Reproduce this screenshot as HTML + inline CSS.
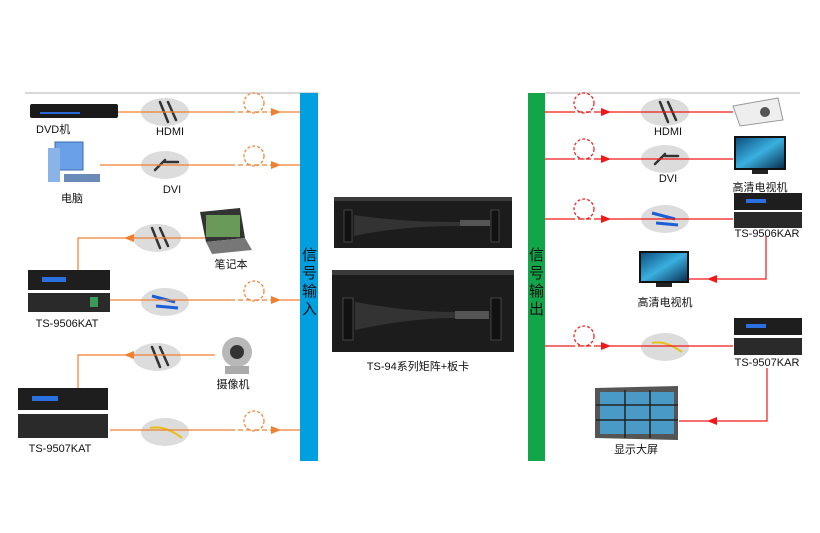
<!DOCTYPE html>
<html><head><meta charset="utf-8"><style>
body{margin:0;background:#fff}
svg text{font-family:"Liberation Sans","Noto Sans CJK SC",sans-serif;font-size:11px;fill:#111}
</style></head><body>
<svg width="820" height="528" viewBox="0 0 820 528" xmlns="http://www.w3.org/2000/svg">
<defs>
<marker id="ao" markerWidth="10" markerHeight="8" refX="9" refY="4" orient="auto" markerUnits="userSpaceOnUse"><path d="M0,0 L10,4 L0,8 Z" fill="#f08030"/></marker>
<marker id="ar" markerWidth="10" markerHeight="8" refX="9" refY="4" orient="auto" markerUnits="userSpaceOnUse"><path d="M0,0 L10,4 L0,8 Z" fill="#f01818"/></marker>
<linearGradient id="scr" x1="0" y1="0" x2="1" y2="1"><stop offset="0" stop-color="#0a4a7a"/><stop offset="0.5" stop-color="#3ab0e0"/><stop offset="1" stop-color="#052a4a"/></linearGradient>
</defs>
<line x1="25" y1="93" x2="318" y2="93" stroke="#ccc" stroke-width="1.5"/>
<line x1="545" y1="93" x2="800" y2="93" stroke="#ccc" stroke-width="1.5"/>
<rect x="300" y="93" width="18" height="368" fill="#00a0e0"/>
<rect x="528" y="93" width="17" height="368" fill="#12a54a"/>
<g fill="#1a1a2a" style="font-family:'Liberation Sans','Noto Sans CJK SC',sans-serif;font-size:15px">
<text x="302" y="260" fill="#1a1a2a" style="font-size:15px">信</text><text x="302" y="278" fill="#1a1a2a" style="font-size:15px">号</text><text x="302" y="296" fill="#1a1a2a" style="font-size:15px">输</text><text x="302" y="314" fill="#1a1a2a" style="font-size:15px">入</text>
<text x="529" y="260" fill="#1a1a2a" style="font-size:15px">信</text><text x="529" y="278" fill="#1a1a2a" style="font-size:15px">号</text><text x="529" y="296" fill="#1a1a2a" style="font-size:15px">输</text><text x="529" y="314" fill="#1a1a2a" style="font-size:15px">出</text></g>

<g fill="#dcdcdc">
<ellipse cx="165" cy="112" rx="24" ry="14"/><ellipse cx="165" cy="165" rx="24" ry="14"/>
<ellipse cx="157" cy="238" rx="24" ry="14"/><ellipse cx="165" cy="302" rx="24" ry="14"/>
<ellipse cx="157" cy="357" rx="24" ry="14"/><ellipse cx="165" cy="432" rx="24" ry="14"/>
<ellipse cx="665" cy="112" rx="24" ry="14"/><ellipse cx="665" cy="159" rx="24" ry="14"/>
<ellipse cx="665" cy="219" rx="24" ry="14"/><ellipse cx="665" cy="347" rx="24" ry="14"/>
</g>
<g stroke="#333" stroke-width="2.5" stroke-linecap="round">
<line x1="160" y1="102" x2="168" y2="122"/><line x1="168" y1="102" x2="176" y2="120"/>
<line x1="155" y1="170" x2="165" y2="160"/><line x1="165" y1="162" x2="178" y2="162"/>
<line x1="152" y1="228" x2="160" y2="248"/><line x1="160" y1="228" x2="168" y2="246"/>
<line x1="152" y1="347" x2="160" y2="367"/><line x1="160" y1="347" x2="168" y2="365"/>
<line x1="660" y1="102" x2="668" y2="122"/><line x1="668" y1="102" x2="676" y2="120"/>
<line x1="655" y1="164" x2="665" y2="154"/><line x1="665" y1="156" x2="678" y2="156"/>
</g>
<g stroke="#1b5fd8" stroke-width="3"><line x1="152" y1="296" x2="175" y2="302"/><line x1="156" y1="306" x2="178" y2="308"/>
<line x1="652" y1="213" x2="675" y2="219"/><line x1="656" y1="223" x2="678" y2="225"/></g>
<g stroke="#e8c020" stroke-width="2"><path d="M150 428 Q165 425 182 438" fill="none"/><path d="M652 343 Q665 340 682 352" fill="none"/></g>

<g stroke="#f08030" stroke-width="1.2" fill="none">
<line x1="118" y1="112" x2="230" y2="112"/><line x1="230" y1="112" x2="270" y2="112" stroke-dasharray="5,3"/><line x1="270" y1="112" x2="280" y2="112" marker-end="url(#ao)"/><line x1="280" y1="112" x2="300" y2="112"/>
<line x1="100" y1="165" x2="230" y2="165"/><line x1="230" y1="165" x2="270" y2="165" stroke-dasharray="5,3"/><line x1="270" y1="165" x2="280" y2="165" marker-end="url(#ao)"/><line x1="280" y1="165" x2="300" y2="165"/>
<line x1="110" y1="300" x2="230" y2="300"/><line x1="230" y1="300" x2="270" y2="300" stroke-dasharray="5,3"/><line x1="270" y1="300" x2="280" y2="300" marker-end="url(#ao)"/><line x1="280" y1="300" x2="300" y2="300"/>
<line x1="110" y1="430" x2="230" y2="430"/><line x1="230" y1="430" x2="270" y2="430" stroke-dasharray="5,3"/><line x1="270" y1="430" x2="280" y2="430" marker-end="url(#ao)"/><line x1="280" y1="430" x2="300" y2="430"/>
<line x1="205" y1="238" x2="125" y2="238" marker-end="url(#ao)"/><polyline points="125,238 78,238 78,270"/>
<line x1="215" y1="355" x2="125" y2="355" marker-end="url(#ao)"/><polyline points="125,355 78,355 78,388"/>
<circle cx="254" cy="103" r="10" stroke-dasharray="3,2"/><circle cx="254" cy="156" r="10" stroke-dasharray="3,2"/>
<circle cx="254" cy="291" r="10" stroke-dasharray="3,2"/><circle cx="254" cy="421" r="10" stroke-dasharray="3,2"/>
</g>
<g stroke="#f01818" stroke-width="1.2" fill="none">
<line x1="545" y1="112" x2="570" y2="112"/><line x1="570" y1="112" x2="598" y2="112" stroke-dasharray="5,3"/><line x1="598" y1="112" x2="610" y2="112" marker-end="url(#ar)"/><line x1="610" y1="112" x2="733" y2="112"/>
<line x1="545" y1="159" x2="570" y2="159"/><line x1="570" y1="159" x2="598" y2="159" stroke-dasharray="5,3"/><line x1="598" y1="159" x2="610" y2="159" marker-end="url(#ar)"/><line x1="610" y1="159" x2="733" y2="159"/>
<line x1="545" y1="219" x2="570" y2="219"/><line x1="570" y1="219" x2="598" y2="219" stroke-dasharray="5,3"/><line x1="598" y1="219" x2="610" y2="219" marker-end="url(#ar)"/><line x1="610" y1="219" x2="733" y2="219"/>
<line x1="545" y1="346" x2="570" y2="346"/><line x1="570" y1="346" x2="598" y2="346" stroke-dasharray="5,3"/><line x1="598" y1="346" x2="610" y2="346" marker-end="url(#ar)"/><line x1="610" y1="346" x2="733" y2="346"/>
<polyline points="766,236 766,279 720,279"/><line x1="720" y1="279" x2="708" y2="279" marker-end="url(#ar)"/><line x1="708" y1="279" x2="689" y2="279"/>
<polyline points="767,368 767,421 720,421"/><line x1="720" y1="421" x2="708" y2="421" marker-end="url(#ar)"/><line x1="708" y1="421" x2="679" y2="421"/>
<circle cx="584" cy="103" r="10" stroke-dasharray="3,2"/><circle cx="584" cy="149" r="10" stroke-dasharray="3,2"/>
<circle cx="584" cy="209" r="10" stroke-dasharray="3,2"/><circle cx="584" cy="336" r="10" stroke-dasharray="3,2"/>
</g>

<rect x="30" y="104" width="88" height="14" rx="2" fill="#1a1a1a"/><rect x="40" y="112" width="40" height="2" fill="#2a6ad8"/>
<rect x="55" y="142" width="28" height="28" fill="#6aa0e8" stroke="#3a6ab0"/><rect x="48" y="148" width="12" height="34" fill="#8ab4e8"/><rect x="64" y="174" width="36" height="8" fill="#6a8ab8"/>
<path d="M200 212 L240 208 L245 238 L206 242 Z" fill="#333"/><rect x="206" y="215" width="34" height="22" fill="#6a9a5a"/><path d="M206 242 L245 238 L252 250 L212 254 Z" fill="#777"/>
<rect x="28" y="270" width="82" height="20" fill="#1e1e1e"/><rect x="42" y="277" width="24" height="5" fill="#2a70e0"/>
<rect x="28" y="293" width="82" height="19" fill="#2a2a2a"/><rect x="90" y="297" width="8" height="10" fill="#3a9a5a"/>
<circle cx="237" cy="352" r="15" fill="#b8b8b8"/><circle cx="237" cy="352" r="7" fill="#333"/><rect x="225" y="366" width="24" height="8" fill="#aaa"/>
<rect x="18" y="388" width="90" height="22" fill="#1e1e1e"/><rect x="32" y="396" width="26" height="5" fill="#2a70e0"/>
<rect x="18" y="414" width="90" height="24" fill="#2a2a2a"/>
<path d="M733 106 L778 98 L783 120 L740 126 Z" fill="#eee" stroke="#999"/><circle cx="765" cy="112" r="5" fill="#555"/>
<rect x="735" y="137" width="50" height="32" fill="url(#scr)" stroke="#111" stroke-width="2"/><rect x="752" y="170" width="16" height="4" fill="#222"/>
<rect x="734" y="193" width="68" height="17" fill="#1e1e1e"/><rect x="746" y="199" width="20" height="4" fill="#2a70e0"/>
<rect x="734" y="212" width="68" height="16" fill="#2a2a2a"/>
<rect x="640" y="252" width="48" height="30" fill="url(#scr)" stroke="#111" stroke-width="2"/><rect x="656" y="283" width="16" height="4" fill="#222"/>
<rect x="734" y="318" width="68" height="17" fill="#1e1e1e"/><rect x="746" y="324" width="20" height="4" fill="#2a70e0"/>
<rect x="734" y="338" width="68" height="17" fill="#2a2a2a"/>
<path d="M595 388 L678 386 L678 440 L595 438 Z" fill="#555"/><rect x="600" y="392" width="74" height="42" fill="#4a9ac8"/>
<g stroke="#222" stroke-width="1.5"><line x1="625" y1="390" x2="625" y2="438"/><line x1="650" y1="390" x2="650" y2="438"/><line x1="596" y1="405" x2="678" y2="405"/><line x1="596" y1="420" x2="678" y2="420"/></g>
<!-- center matrix -->
<rect x="334" y="197" width="178" height="51" fill="#1c1c1c"/><rect x="334" y="197" width="178" height="4" fill="#3a3a3a"/>
<rect x="344" y="210" width="8" height="32" fill="#111" stroke="#444"/><rect x="491" y="210" width="8" height="32" fill="#111" stroke="#444"/>
<path d="M354 215 Q400 222 460 222 L460 226 Q400 226 354 236 Z" fill="#333"/>
<rect x="460" y="220" width="30" height="6" fill="#555"/>
<rect x="332" y="270" width="182" height="82" fill="#1c1c1c"/><rect x="332" y="270" width="182" height="5" fill="#3a3a3a"/>
<rect x="343" y="298" width="10" height="42" fill="#111" stroke="#444"/><rect x="491" y="298" width="10" height="42" fill="#111" stroke="#444"/>
<path d="M355 302 Q410 312 455 312 L455 318 Q410 318 355 330 Z" fill="#333"/>
<rect x="455" y="311" width="34" height="8" fill="#555"/>
<text x="36" y="133" style="font-size:11px">DVD机</text>
<text x="170" y="135" text-anchor="middle">HDMI</text>
<text x="72" y="202" text-anchor="middle">电脑</text>
<text x="172" y="193" text-anchor="middle">DVI</text>
<text x="231" y="268" text-anchor="middle">笔记本</text>
<text x="67" y="327" text-anchor="middle">TS-9506KAT</text>
<text x="233" y="388" text-anchor="middle">摄像机</text>
<text x="60" y="452" text-anchor="middle">TS-9507KAT</text>
<text x="418" y="370" text-anchor="middle">TS-94系列矩阵+板卡</text>
<text x="668" y="135" text-anchor="middle">HDMI</text>
<text x="668" y="182" text-anchor="middle">DVI</text>
<text x="760" y="191" text-anchor="middle">高清电视机</text>
<text x="767" y="237" text-anchor="middle">TS-9506KAR</text>
<text x="665" y="306" text-anchor="middle">高清电视机</text>
<text x="767" y="366" text-anchor="middle">TS-9507KAR</text>
<text x="636" y="453" text-anchor="middle">显示大屏</text>
</svg>
</body></html>
